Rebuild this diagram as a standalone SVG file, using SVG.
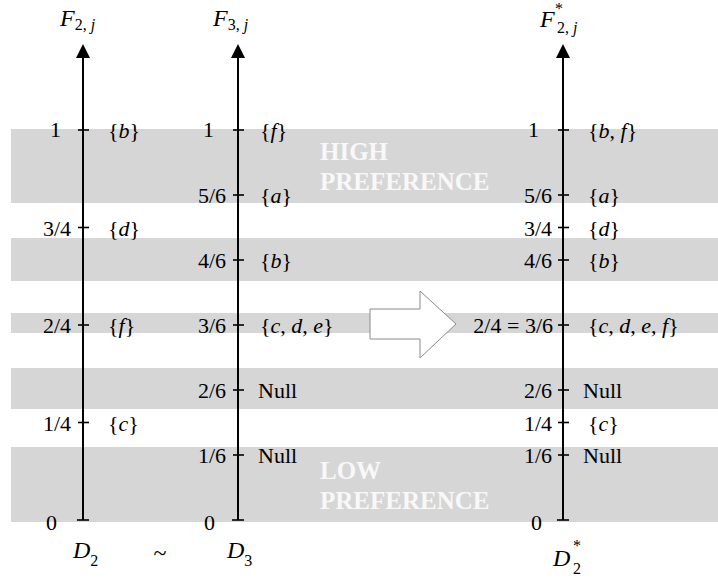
<svg xmlns="http://www.w3.org/2000/svg" width="718" height="579" viewBox="0 0 718 579">
<style>
.band{fill:#d6d6d6}
.t{font-family:"Liberation Serif","Times New Roman","DejaVu Serif",serif;font-size:22px;fill:#000}
.n{text-anchor:end}
.i{font-style:italic}
.big{font-family:"Liberation Serif","Times New Roman","DejaVu Serif",serif;font-size:24px;fill:#000}
.sub{font-size:16px}
.pref{font-family:"Liberation Serif","Times New Roman","DejaVu Serif",serif;font-size:25px;font-weight:bold;fill:#f8f8f8}
.axis{stroke:#000;stroke-width:2;fill:none}
.tick{stroke:#000;stroke-width:1.6}
.head{fill:#000}
</style>
<rect width="718" height="579" fill="#ffffff"/>
<g id="bands">
<rect class="band" x="11" y="129" width="707" height="74"/>
<rect class="band" x="11" y="238" width="707" height="43"/>
<rect class="band" x="11" y="313" width="707" height="20"/>
<rect class="band" x="11" y="368" width="707" height="41"/>
<rect class="band" x="11" y="447" width="707" height="75"/>
</g>
<g id="high-pref">
<text class="pref" x="320" y="160">HIGH</text>
<text class="pref" x="320" y="190">PREFERENCE</text>
</g>
<g id="low-pref">
<text class="pref" x="320" y="479">LOW</text>
<text class="pref" x="320" y="509">PREFERENCE</text>
</g>
<g id="connectors">
<polygon id="transform-arrow" points="370,309 420,309 420,291 456,324 420,358 420,339 370,339" fill="#ffffff" stroke="#8a8a8a" stroke-width="1"/>
</g>
<g id="axis-D2">
<line class="axis" x1="83" y1="520" x2="83" y2="56"/>
<polygon class="head" points="76,58 90,58 83,44"/>
<line class="tick" x1="78" y1="130" x2="89" y2="130"/>
<line class="tick" x1="78" y1="227.5" x2="89" y2="227.5"/>
<line class="tick" x1="78" y1="325" x2="89" y2="325"/>
<line class="tick" x1="78" y1="422.5" x2="89" y2="422.5"/>
<line class="tick" x1="77" y1="520" x2="89" y2="520"/>
<text class="big" x="60" y="26"><tspan class="i">F</tspan><tspan class="sub" dy="4">2, </tspan><tspan class="sub i">j</tspan></text>
<text class="t n" x="61" y="137">1</text>
<text class="t n" x="71" y="235.5">3/4</text>
<text class="t n" x="71" y="333">2/4</text>
<text class="t n" x="71" y="430.5">1/4</text>
<text class="t n" x="57" y="530">0</text>
<text class="t" x="108" y="138">{<tspan class="i">b</tspan>}</text>
<text class="t" x="108" y="235.5">{<tspan class="i">d</tspan>}</text>
<text class="t" x="108" y="333">{<tspan class="i">f</tspan>}</text>
<text class="t" x="108" y="430.5">{<tspan class="i">c</tspan>}</text>
<text class="big" x="73" y="558"><tspan class="i">D</tspan><tspan class="sub" dy="8">2</tspan></text>
</g>
<g id="similar">
<text class="big" x="160" y="561" text-anchor="middle">~</text>
</g>
<g id="axis-D3">
<line class="axis" x1="238" y1="520" x2="238" y2="56"/>
<polygon class="head" points="231,58 245,58 238,44"/>
<line class="tick" x1="233" y1="130" x2="244" y2="130"/>
<line class="tick" x1="233" y1="195" x2="244" y2="195"/>
<line class="tick" x1="233" y1="260" x2="244" y2="260"/>
<line class="tick" x1="233" y1="325" x2="244" y2="325"/>
<line class="tick" x1="233" y1="390" x2="244" y2="390"/>
<line class="tick" x1="233" y1="455" x2="244" y2="455"/>
<line class="tick" x1="232" y1="520" x2="244" y2="520"/>
<text class="big" x="213" y="26"><tspan class="i">F</tspan><tspan class="sub" dy="4">3, </tspan><tspan class="sub i">j</tspan></text>
<text class="t n" x="214" y="137">1</text>
<text class="t n" x="226" y="203">5/6</text>
<text class="t n" x="226" y="268">4/6</text>
<text class="t n" x="226" y="333">3/6</text>
<text class="t n" x="226" y="398">2/6</text>
<text class="t n" x="226" y="463">1/6</text>
<text class="t n" x="215" y="530">0</text>
<text class="t" x="260" y="138">{<tspan class="i">f</tspan>}</text>
<text class="t" x="260" y="203">{<tspan class="i">a</tspan>}</text>
<text class="t" x="260" y="268">{<tspan class="i">b</tspan>}</text>
<text class="t" x="260" y="333">{<tspan class="i">c</tspan>, <tspan class="i">d</tspan>, <tspan class="i">e</tspan>}</text>
<text class="t" x="258" y="398">Null</text>
<text class="t" x="258" y="463">Null</text>
<text class="big" x="227" y="558"><tspan class="i">D</tspan><tspan class="sub" dy="8">3</tspan></text>
</g>
<g id="axis-D2star">
<line class="axis" x1="563" y1="520" x2="563" y2="56"/>
<polygon class="head" points="556,58 570,58 563,44"/>
<line class="tick" x1="558" y1="130" x2="569" y2="130"/>
<line class="tick" x1="558" y1="195" x2="569" y2="195"/>
<line class="tick" x1="558" y1="227.5" x2="569" y2="227.5"/>
<line class="tick" x1="558" y1="260" x2="569" y2="260"/>
<line class="tick" x1="558" y1="325" x2="569" y2="325"/>
<line class="tick" x1="558" y1="390" x2="569" y2="390"/>
<line class="tick" x1="558" y1="422.5" x2="569" y2="422.5"/>
<line class="tick" x1="558" y1="455" x2="569" y2="455"/>
<line class="tick" x1="557" y1="520" x2="569" y2="520"/>
<text class="big" x="540" y="27"><tspan class="i">F</tspan></text>
<text class="big sub" x="555" y="14">*</text>
<text class="big sub" x="557" y="33">2, <tspan class="i">j</tspan></text>
<text class="t n" x="539" y="137">1</text>
<text class="t n" x="552" y="203">5/6</text>
<text class="t n" x="552" y="235.5">3/4</text>
<text class="t n" x="552" y="268">4/6</text>
<text class="t n" x="553" y="333">2/4 = 3/6</text>
<text class="t n" x="552" y="398">2/6</text>
<text class="t n" x="552" y="430.5">1/4</text>
<text class="t n" x="552" y="463">1/6</text>
<text class="t n" x="542" y="530">0</text>
<text class="t" x="588" y="138">{<tspan class="i">b</tspan>, <tspan class="i">f</tspan>}</text>
<text class="t" x="588" y="203">{<tspan class="i">a</tspan>}</text>
<text class="t" x="588" y="235.5">{<tspan class="i">d</tspan>}</text>
<text class="t" x="588" y="268">{<tspan class="i">b</tspan>}</text>
<text class="t" x="588" y="333">{<tspan class="i">c</tspan>, <tspan class="i">d</tspan>, <tspan class="i">e</tspan>, <tspan class="i">f</tspan>}</text>
<text class="t" x="583" y="398">Null</text>
<text class="t" x="588" y="430.5">{<tspan class="i">c</tspan>}</text>
<text class="t" x="583" y="463">Null</text>
<text class="big" x="553" y="566"><tspan class="i">D</tspan></text>
<text class="big sub" x="573" y="551">*</text>
<text class="big sub" x="573" y="574">2</text>
</g>
</svg>
